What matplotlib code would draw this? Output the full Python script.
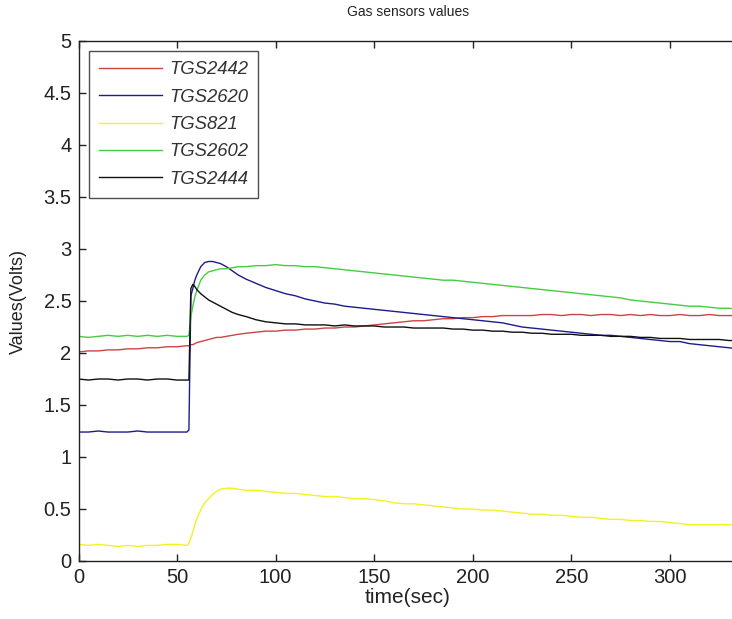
import matplotlib
matplotlib.use("Agg")
import matplotlib.pyplot as plt

# ---- data ----
time_s = [0, 5, 10, 15, 20, 25, 30, 35, 40, 45, 50, 55, 56, 57, 58, 59, 60, 62, 64, 66, 68,
          70, 72, 75, 78, 81, 85, 90, 95, 100, 105, 110, 115, 120, 125, 130, 135, 140, 145,
          150, 155, 160, 165, 170, 175, 180, 185, 190, 195, 200, 205, 210, 215, 220, 225,
          230, 235, 240, 245, 250, 255, 260, 265, 270, 275, 280, 285, 290, 295, 300, 305,
          310, 315, 320, 325, 330, 334]

tgs2442 = [2.01, 2.02, 2.02, 2.03, 2.03, 2.04, 2.04, 2.05, 2.05, 2.06, 2.06, 2.07, 2.07, 2.08,
           2.08, 2.09, 2.10, 2.11, 2.12, 2.13, 2.14, 2.15, 2.15, 2.16, 2.17, 2.18, 2.19, 2.20,
           2.21, 2.21, 2.22, 2.22, 2.23, 2.23, 2.24, 2.24, 2.25, 2.25, 2.26, 2.27, 2.28, 2.29,
           2.30, 2.31, 2.31, 2.32, 2.33, 2.33, 2.34, 2.34, 2.35, 2.35, 2.36, 2.36, 2.36, 2.36,
           2.37, 2.37, 2.36, 2.37, 2.37, 2.36, 2.37, 2.37, 2.36, 2.37, 2.36, 2.37, 2.36, 2.36,
           2.37, 2.36, 2.36, 2.37, 2.36, 2.36, 2.36]

tgs2620 = [1.24, 1.24, 1.25, 1.24, 1.24, 1.24, 1.25, 1.24, 1.24, 1.24, 1.24, 1.24, 1.26, 2.55,
           2.62, 2.70, 2.75, 2.83, 2.87, 2.88, 2.88, 2.87, 2.86, 2.83, 2.79, 2.75, 2.71, 2.67,
           2.63, 2.60, 2.57, 2.55, 2.52, 2.50, 2.48, 2.47, 2.45, 2.44, 2.43, 2.42, 2.41, 2.40,
           2.39, 2.38, 2.37, 2.36, 2.35, 2.34, 2.33, 2.32, 2.31, 2.30, 2.29, 2.27, 2.25, 2.24,
           2.23, 2.22, 2.21, 2.20, 2.19, 2.18, 2.17, 2.17, 2.16, 2.15, 2.14, 2.13, 2.12, 2.11,
           2.11, 2.09, 2.08, 2.07, 2.06, 2.05, 2.04]

tgs821 = [0.16, 0.15, 0.16, 0.15, 0.14, 0.15, 0.14, 0.15, 0.15, 0.16, 0.16, 0.15, 0.17, 0.22,
          0.28, 0.35, 0.41, 0.49, 0.56, 0.60, 0.64, 0.67, 0.69, 0.70, 0.70, 0.69, 0.68, 0.68,
          0.67, 0.66, 0.65, 0.65, 0.64, 0.63, 0.62, 0.62, 0.61, 0.60, 0.60, 0.59, 0.58, 0.56,
          0.55, 0.55, 0.54, 0.53, 0.52, 0.51, 0.50, 0.50, 0.49, 0.49, 0.48, 0.47, 0.46, 0.45,
          0.45, 0.44, 0.44, 0.43, 0.42, 0.42, 0.41, 0.40, 0.40, 0.39, 0.39, 0.38, 0.38, 0.37,
          0.36, 0.35, 0.35, 0.35, 0.35, 0.35, 0.35]

tgs2602 = [2.16, 2.15, 2.16, 2.17, 2.16, 2.17, 2.16, 2.17, 2.16, 2.17, 2.16, 2.16, 2.17, 2.35,
           2.45, 2.54, 2.60, 2.70, 2.75, 2.78, 2.79, 2.80, 2.81, 2.81, 2.82, 2.83, 2.83, 2.84,
           2.84, 2.85, 2.84, 2.84, 2.83, 2.83, 2.82, 2.81, 2.80, 2.79, 2.78, 2.77, 2.76, 2.75,
           2.74, 2.73, 2.72, 2.71, 2.70, 2.70, 2.69, 2.68, 2.67, 2.66, 2.65, 2.64, 2.63, 2.62,
           2.61, 2.60, 2.59, 2.58, 2.57, 2.56, 2.55, 2.54, 2.53, 2.51, 2.50, 2.49, 2.48, 2.47,
           2.46, 2.45, 2.45, 2.44, 2.43, 2.43, 2.42]

tgs2444 = [1.75, 1.74, 1.75, 1.75, 1.74, 1.75, 1.75, 1.74, 1.75, 1.75, 1.74, 1.74, 1.74, 2.62,
           2.66, 2.64, 2.61, 2.57, 2.54, 2.51, 2.49, 2.47, 2.45, 2.42, 2.39, 2.37, 2.35, 2.32,
           2.30, 2.29, 2.28, 2.28, 2.27, 2.27, 2.27, 2.26, 2.27, 2.26, 2.26, 2.26, 2.25, 2.25,
           2.25, 2.24, 2.24, 2.24, 2.24, 2.23, 2.23, 2.22, 2.22, 2.21, 2.21, 2.20, 2.20, 2.19,
           2.19, 2.18, 2.18, 2.18, 2.17, 2.17, 2.17, 2.16, 2.16, 2.16, 2.15, 2.15, 2.14, 2.14,
           2.14, 2.13, 2.13, 2.13, 2.13, 2.12, 2.12]

series_names = ["TGS2442", "TGS2620", "TGS821", "TGS2602", "TGS2444"]
series_values = [tgs2442, tgs2620, tgs821, tgs2602, tgs2444]
series_colors = ["#cc4444", "#1c1c8c", "#f2f224", "#44cc44", "#101010"]

x_ticks = [0, 50, 100, 150, 200, 250, 300]
y_ticks = [0, 0.5, 1, 1.5, 2, 2.5, 3, 3.5, 4, 4.5, 5]
y_tick_labels = ["0", "0.5", "1", "1.5", "2", "2.5", "3", "3.5", "4", "4.5", "5"]

plt.rcParams["font.family"] = ["Liberation Sans", "DejaVu Sans"]
TICK_FS = 14.5
LEG_FS = 13.3

fig = plt.figure(figsize=(7.32, 6.19), dpi=100)
ax = fig.add_axes([78.5 / 732, 1 - 561 / 619, (737 - 78.5) / 732, (561 - 41) / 619])

for name, vals, col in zip(series_names, series_values, series_colors):
    ax.plot(time_s, vals, color=col, lw=1.0, label=name)

ax.set_xlim(0, 334)
ax.set_ylim(0, 5)
ax.set_xticks(x_ticks)
ax.set_yticks(y_ticks)
ax.set_yticklabels(y_tick_labels)
ax.tick_params(direction="in", top=True, right=False, length=5, width=1,
               labelsize=TICK_FS, colors="#222222", pad=5)
for sp in ax.spines.values():
    sp.set_linewidth(1.0)
    sp.set_color("#222222")
ax.spines["right"].set_visible(False)

ax.set_title("Gas sensors values", fontsize=10, color="#222222", pad=18)
ax.set_xlabel("time(sec)", fontsize=15, color="#222222", labelpad=1)
ax.set_ylabel("Values(Volts)", fontsize=13, color="#222222", labelpad=12)

leg = ax.legend(loc="upper left", prop={"style": "italic", "size": LEG_FS},
                frameon=True, fancybox=False, edgecolor="#222222",
                handlelength=3.4, handletextpad=0.4, labelspacing=0.56,
                borderaxespad=0.55, borderpad=0.55)
leg.get_frame().set_linewidth(1.0)
for t in leg.get_texts():
    t.set_color("#333333")

fig.savefig("out.png", dpi=100)
